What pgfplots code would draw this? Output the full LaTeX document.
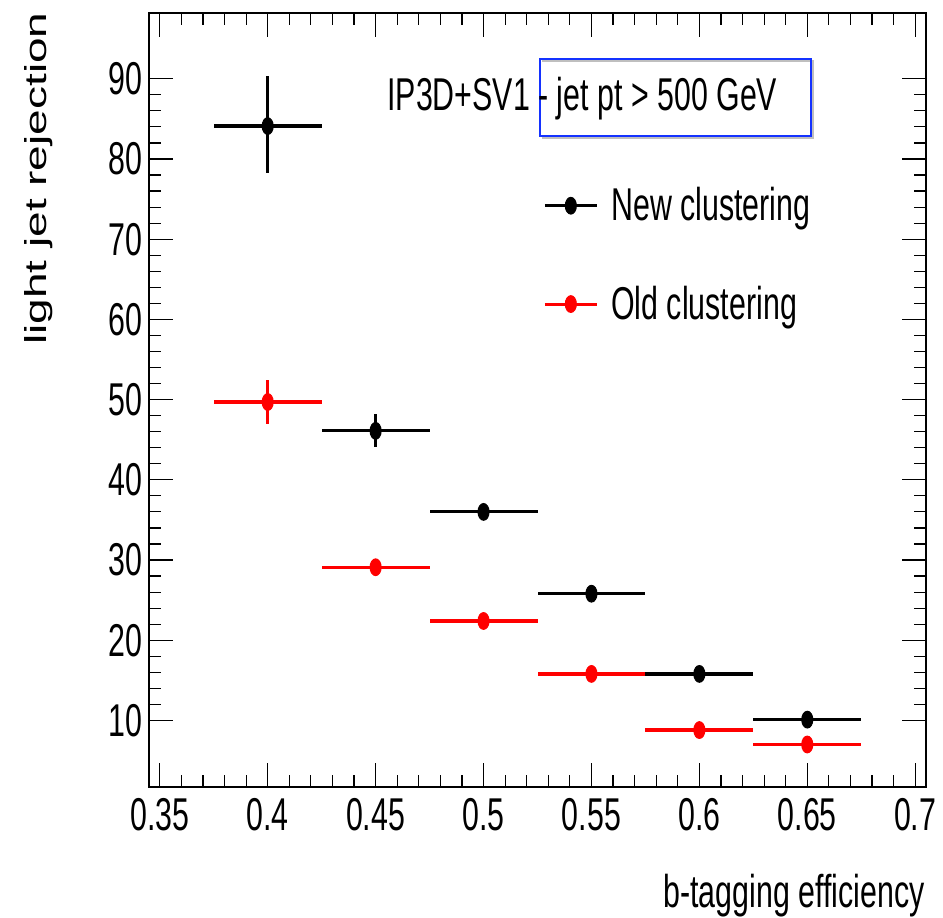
\documentclass[border=0pt]{standalone}
\usepackage{fontspec}
\setmainfont{Liberation Sans}[FakeStretch=0.66]
\newfontfamily\ylfont{Liberation Sans}
\usepackage{pgfplots}
\usepackage{pgfplotstable}
\pgfplotsset{compat=1.18}
\definecolor{boxblue}{RGB}{20,50,255}

\pgfplotstableread{
x y ex ep em
0.40 84.1 0.025 6.3 5.8
0.45 46.1 0.025 2.1 2.0
0.50 36.0 0.025 1.0 1.0
0.55 25.8 0.025 0.9 0.9
0.60 15.8 0.025 0.7 0.7
0.65 10.1 0.025 0.6 0.6
}\newdata
\pgfplotstableread{
x y ex ep em
0.40 49.7 0.025 2.8 2.8
0.45 29.1 0.025 1.0 1.0
0.50 22.4 0.025 0.9 0.9
0.55 15.8 0.025 0.7 0.7
0.60 8.8 0.025 0.6 0.6
0.65 7.0 0.025 0.5 0.5
}\olddata

\begin{document}
\begin{tikzpicture}
\path[use as bounding box] (-74.5pt,-65pt) rectangle (397pt,393.5pt);
\begin{axis}[
  at={(0pt,0pt)}, anchor=south west,
  scale only axis, width=388.5pt, height=387pt,
  xmin=0.345, xmax=0.705, ymin=1.7, ymax=98.2,
  xtick={0.35,0.4,0.45,0.5,0.55,0.6,0.65,0.7},
  xticklabels={0.35,0.4,0.45,0.5,0.55,0.6,0.65,0.7},
  ytick={10,20,30,40,50,60,70,80,90},
  minor x tick num=4, minor y tick num=4,
  tick align=inside,
  major tick length=12pt, minor tick length=6pt,
  axis line style={line width=1pt},
  every tick/.style={black, line width=0.6pt},
  /pgf/number format/assume math mode=true,
  tick label style={font=\fontsize{23}{27}\selectfont, inner sep=0pt},
  xticklabel style={yshift=-5.5pt},
  yticklabel style={xshift=-3pt},
  legend cell align=left,
  legend style={draw=none, fill=none, at={(0.507,0.775)}, anchor=north west,
    inner sep=0pt, row sep=31pt, font=\fontsize{23}{27}\selectfont,
    nodes={inner sep=0pt},
    /tikz/every odd column/.append style={column sep=6.5pt}},
  legend image code/.code={\draw[mark repeat=2, mark phase=2, #1] plot coordinates {(0pt,0pt) (13pt,0pt) (26pt,0pt)};},
]
\addlegendimage{black, line width=1.5pt, mark=*, mark size=4.2pt, mark options={xscale=0.66, line width=0.5pt, solid}}
\addlegendentry{New clustering}
\addlegendimage{red, line width=1.5pt, mark=*, mark size=4.2pt, mark options={xscale=0.66, line width=0.5pt, solid}}
\addlegendentry{Old clustering}

\addplot[forget plot, black, only marks, mark=*, mark size=4.2pt, mark options={xscale=0.66, line width=0.5pt},
  error bars/.cd, x dir=both, x explicit, y dir=both, y explicit,
  error bar style={line width=1.6pt, black}, error mark=none]
  table[x=x, y=y, x error=ex, y error plus=ep, y error minus=em] {\newdata};
\addplot[forget plot, red, only marks, mark=*, mark size=4.2pt, mark options={xscale=0.66, line width=0.5pt},
  error bars/.cd, x dir=both, x explicit, y dir=both, y explicit,
  error bar style={line width=1.6pt, red}, error mark=none]
  table[x=x, y=y, x error=ex, y error plus=ep, y error minus=em] {\olddata};
\end{axis}
% title box
\draw[black!25, line width=1pt] (196.5pt,363pt) -- (332pt,363pt) -- (332pt,324.5pt) -- (196.5pt,324.5pt);
\draw[boxblue, line width=1pt] (195.5pt,364pt) rectangle (331pt,325.5pt);
\node[anchor=base west, inner sep=0pt, font=\fontsize{23}{27}\selectfont] at (119pt,338pt) {IP3D+SV1 - jet pt > 500 GeV};
% axis labels
\node[anchor=base east, inner sep=0pt, font=\fontsize{23}{27}\selectfont] at (388pt,-60pt) {b-tagging efficiency};
\node[xscale=0.66, rotate=90, anchor=east, inner sep=0pt, font=\ylfont\fontsize{23}{27}\selectfont] at (-55pt,387.5pt) {light jet rejection};
\end{tikzpicture}
\end{document}
